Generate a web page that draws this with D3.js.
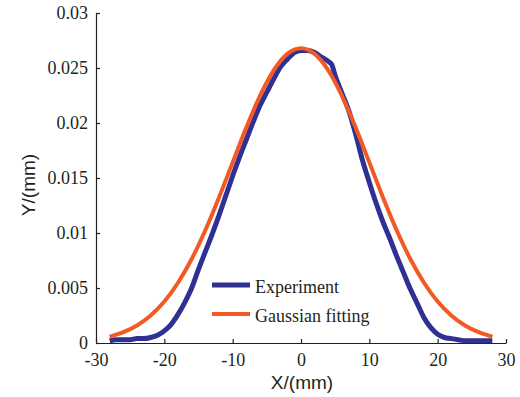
<!DOCTYPE html>
<html>
<head>
<meta charset="utf-8">
<script src="https://cdn.jsdelivr.net/npm/d3@7"></script>
<style>
  body { margin: 0; background: #fff; }
  .tick text { font-family: "Liberation Serif", serif; font-size: 18px; fill: #231f20; }
  .axis path, .axis line { stroke: #231f20; stroke-width: 1.2; }
</style>
</head>
<body>
<div id="chart"></div>
<script>
// experiment profile (X in mm)
const expX = [-28, -27, -26, -25, -24, -23, -22, -21, -20, -19, -18, -17, -16, -15, -14, -13, -12, -11, -10, -9, -8, -7, -6, -5, -4, -3, -2, -1, 0, 1, 2, 3, 4, 4.5, 5, 6, 7, 8, 9, 10, 11, 12, 13, 14, 15, 16, 17, 18, 19, 20, 21, 22, 23, 24, 25, 26, 27, 28];
const expY = [0.0002, 0.0003, 0.0003, 0.0003, 0.0004, 0.0004, 0.0005, 0.0007, 0.0011, 0.0017, 0.0026, 0.0037, 0.0050, 0.0067, 0.0083, 0.0099, 0.0116, 0.0134, 0.0152, 0.0169, 0.0185, 0.0201, 0.0216, 0.0228, 0.0240, 0.0251, 0.0258, 0.0264, 0.0266, 0.0266, 0.0264, 0.0260, 0.0256, 0.0253, 0.0243, 0.0227, 0.0211, 0.0190, 0.0166, 0.0146, 0.0127, 0.0110, 0.0095, 0.0079, 0.0064, 0.0049, 0.0036, 0.0023, 0.0014, 0.0008, 0.0005, 0.0004, 0.0003, 0.0002, 0.0002, 0.0002, 0.0002, 0.0002];

// gaussian fit curve
const fitX = [-28, -26, -24, -22, -20, -18, -16, -14, -12, -10, -8, -6, -4, -2, 0, 2, 4, 6, 8, 10, 12, 14, 16, 18, 20, 22, 24, 26, 28];
const fitY = [0.00057, 0.00098, 0.00159, 0.00250, 0.00377, 0.00548, 0.00764, 0.01025, 0.01323, 0.01642, 0.01958, 0.02246, 0.02478, 0.02628, 0.02680, 0.02628, 0.02478, 0.02246, 0.01958, 0.01642, 0.01323, 0.01025, 0.00764, 0.00548, 0.00377, 0.00250, 0.00159, 0.00098, 0.00057];

const xTicks = [-30, -20, -10, 0, 10, 20, 30];
const yTicks = [0, 0.005, 0.01, 0.015, 0.02, 0.025, 0.03];
const seriesNames = ["Experiment", "Gaussian fitting"];
const colors = ["#2e3192", "#f15a24"];

const W = 520, H = 397;
const margin = { top: 13, right: 14, bottom: 54, left: 96 };
const width = W - margin.left - margin.right;
const height = H - margin.top - margin.bottom;

const svg = d3.select("#chart").append("svg")
    .attr("width", W)
    .attr("height", H)
    .append("g")
    .attr("transform", "translate(" + margin.left + "," + margin.top + ")");

const x = d3.scaleLinear().domain([-30, 30]).range([0, width]);
const y = d3.scaleLinear().domain([0, 0.03]).range([height, 0]);

svg.append("g")
    .attr("class", "x axis")
    .attr("transform", "translate(0," + height + ")")
    .call(d3.axisBottom(x).tickValues(xTicks).tickSizeInner(-4).tickSizeOuter(0).tickPadding(10).tickFormat(d => String(d)));

svg.append("g")
    .attr("class", "y axis")
    .call(d3.axisLeft(y).tickValues(yTicks).tickSizeInner(-4).tickSizeOuter(0).tickPadding(8).tickFormat(d => String(d)));

const line = d3.line().x(d => x(d[0])).y(d => y(d[1])).curve(d3.curveMonotoneX);

svg.append("path")
    .datum(expX.map((v, i) => [v, expY[i]]))
    .attr("fill", "none")
    .attr("stroke", colors[0])
    .attr("stroke-width", 5)
    .attr("stroke-linejoin", "round")
    .attr("d", line);

svg.append("path")
    .datum(fitX.map((v, i) => [v, fitY[i]]))
    .attr("fill", "none")
    .attr("stroke", colors[1])
    .attr("stroke-width", 4)
    .attr("stroke-linejoin", "round")
    .attr("d", line);

// legend
const legend = svg.append("g").attr("transform", "translate(116,272)");
seriesNames.forEach((name, i) => {
    const g = legend.append("g").attr("transform", "translate(0," + (i * 29) + ")");
    g.append("line")
        .attr("x1", 0).attr("x2", 38)
        .attr("stroke", colors[i])
        .attr("stroke-width", i === 0 ? 5 : 4);
    g.append("text")
        .attr("x", 43).attr("y", 8)
        .style("font-family", "Liberation Serif, serif")
        .style("font-size", "18px")
        .style("fill", "#231f20")
        .text(name);
});

svg.append("text")
    .attr("x", 206)
    .attr("y", height + 46)
    .attr("text-anchor", "middle")
    .style("font-family", "Liberation Sans, Arial, sans-serif")
    .style("font-size", "19px")
    .style("fill", "#231f20")
    .text("X/(mm)");

svg.append("text")
    .attr("transform", "rotate(-90)")
    .attr("x", -172)
    .attr("y", -61)
    .attr("text-anchor", "middle")
    .style("font-family", "Liberation Sans, Arial, sans-serif")
    .style("font-size", "19px")
    .style("fill", "#231f20")
    .text("Y/(mm)");
</script>
</body>
</html>
